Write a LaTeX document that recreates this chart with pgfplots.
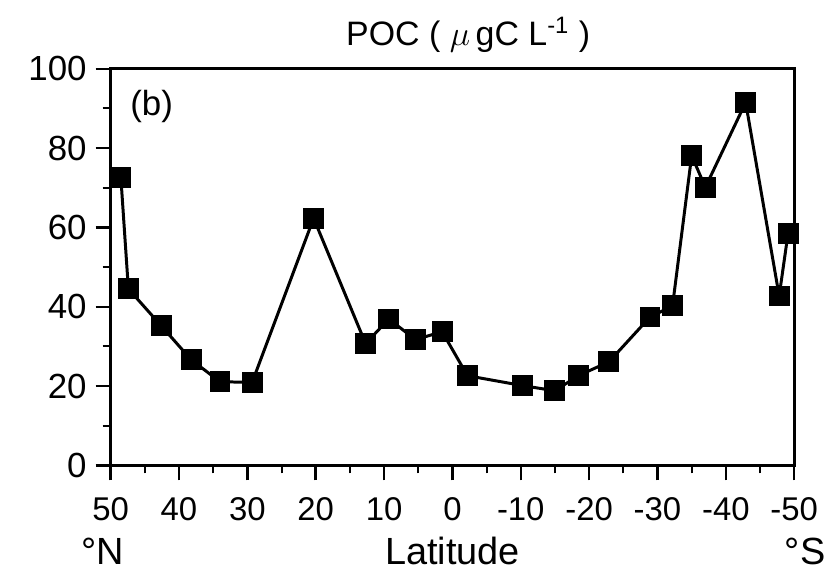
\documentclass[border=0pt]{standalone}
\usepackage{fontspec}
\setmainfont{Liberation Sans}
\usepackage{pgfplots}
\pgfplotsset{compat=1.18}
\begin{document}
\begin{tikzpicture}
\begin{axis}[
  scale only axis,
  width=343pt, height=199pt,
  xmin=-50, xmax=50, ymin=0, ymax=100,
  x dir=reverse,
  axis line style={line width=1.4pt},
  xtick={-50,-40,-30,-20,-10,0,10,20,30,40,50},
  xticklabels={-50,-40,-30,-20,-10,0,10,20,30,40,50},
  minor xtick={-45,-35,-25,-15,-5,5,15,25,35,45},
  ytick={0,20,40,60,80,100},
  yticklabels={0,20,40,60,80,100},
  minor ytick={10,30,50,70,90},
  tick align=outside,
  xtick pos=bottom, ytick pos=left,
  major tick length=7.5pt, minor tick length=4pt,
  every tick/.style={line width=1.2pt, black},
  every minor tick/.style={line width=1pt, black},
  xticklabel style={font=\fontsize{16.5}{16.5}\selectfont, yshift=-5pt},
  yticklabel style={font=\fontsize{17.5}{17.5}\selectfont, xshift=-1pt},
  clip=false,
]
\addplot[black, line width=1.5pt, mark=square*, mark size=4.5pt, mark options={solid}] coordinates {
(48.5,72.6) (47.4,44.5) (42.6,35.2) (38.2,26.6) (34.0,21.1) (29.3,20.9)
(20.3,62.3) (12.7,30.7) (9.3,36.9) (5.4,31.7) (1.5,33.7) (-2.2,22.6)
(-10.3,20.1) (-15.0,18.8) (-18.4,22.6) (-22.9,26.1) (-28.9,37.4) (-32.2,40.2)
(-35.0,78.1) (-37.0,70.1) (-42.9,91.5) (-47.8,42.7) (-49.1,58.5)
};
\node[font=\fontsize{17}{17}\selectfont] at (rel axis cs:0.523,1) [yshift=17pt] {POC ( $\mu$\,gC L\textsuperscript{-1} )};
\node[font=\fontsize{17.5}{17.5}\selectfont] at (rel axis cs:0.06,0.905) {(b)};
\node[font=\fontsize{19}{19}\selectfont] at (rel axis cs:0.5,0) [yshift=-43pt] {Latitude};
\node[font=\fontsize{19}{19}\selectfont] at (rel axis cs:-0.012,0) [yshift=-43pt] {°N};
\node[font=\fontsize{19}{19}\selectfont] at (rel axis cs:1.016,0) [yshift=-43pt] {°S};
\end{axis}
\path (current axis.south west) ++(-55.5pt,-54pt) coordinate (bbsw);
\path (current axis.north east) ++(17.5pt,34.5pt) coordinate (bbne);
\useasboundingbox (bbsw) rectangle (bbne);
\end{tikzpicture}
\end{document}
